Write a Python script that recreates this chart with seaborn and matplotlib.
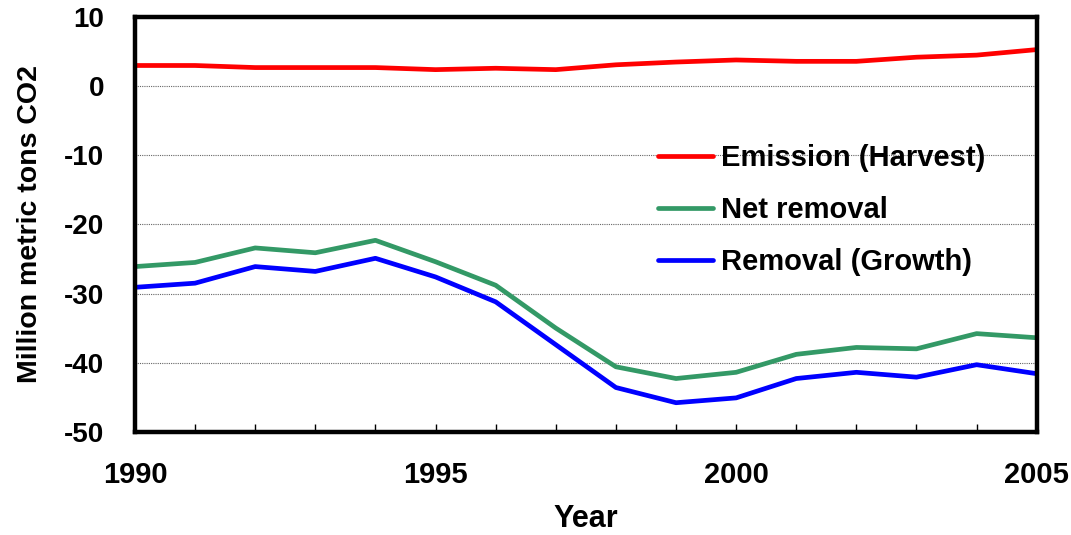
import matplotlib
matplotlib.use("Agg")
import matplotlib.pyplot as plt
import seaborn as sns
import pandas as pd
from matplotlib.ticker import MultipleLocator

years = list(range(1990, 2006))
emission_harvest = [3.0, 3.0, 2.7, 2.7, 2.7, 2.4, 2.6, 2.4, 3.1, 3.5, 3.8, 3.6, 3.6, 4.2, 4.5, 5.3]
net_removal = [-26.1, -25.5, -23.4, -24.1, -22.3, -25.4, -28.8, -35.0, -40.6, -42.3, -41.4, -38.8, -37.8, -38.0, -35.8, -36.4]
removal_growth = [-29.1, -28.5, -26.1, -26.8, -24.9, -27.6, -31.2, -37.4, -43.6, -45.8, -45.1, -42.3, -41.4, -42.1, -40.3, -41.6]

series_names = ["Emission (Harvest)", "Net removal", "Removal (Growth)"]
series_colors = ["#FF0000", "#339966", "#0000FF"]

df = pd.DataFrame({
    "Year": years * 3,
    "Value": emission_harvest + net_removal + removal_growth,
    "Series": [series_names[0]] * len(years) + [series_names[1]] * len(years) + [series_names[2]] * len(years),
})

sns.set_style("white")
plt.rcParams["font.family"] = ["Liberation Sans", "DejaVu Sans"]
plt.rcParams["font.weight"] = "bold"
plt.rcParams["axes.unicode_minus"] = False
plt.rcParams["text.color"] = "black"
plt.rcParams["axes.labelcolor"] = "black"
plt.rcParams["xtick.color"] = "black"
plt.rcParams["ytick.color"] = "black"

fig = plt.figure(figsize=(10.71, 5.35), dpi=100)
ax = fig.add_axes([0.126, 0.193, 0.842, 0.775])

sns.lineplot(data=df, x="Year", y="Value", hue="Series", hue_order=series_names,
             palette=series_colors, linewidth=3.4, ax=ax, legend=True)

ax.set_xlim(1990, 2005)
ax.set_ylim(-50, 10)
ax.yaxis.set_major_locator(MultipleLocator(10))
ax.set_xticks([1990, 1995, 2000, 2005])
ax.xaxis.set_minor_locator(MultipleLocator(1))

ax.grid(False)
for yv in range(-40, 10, 10):
    ax.axhline(yv, color="#666666", linestyle=(0, (1, 1)), linewidth=0.8, zorder=0)

for side in ["top", "bottom", "left", "right"]:
    ax.spines[side].set_visible(True)
    ax.spines[side].set_color("black")
    ax.spines[side].set_linewidth(3.2)

ax.tick_params(axis="x", which="both", direction="in", length=6, width=1.0,
               pad=21, labelsize=21, colors="black", bottom=True)
ax.tick_params(axis="y", which="both", length=0, pad=22, labelsize=20, colors="black")
for lbl in ax.get_xticklabels() + ax.get_yticklabels():
    lbl.set_fontweight("bold")

ax.set_xlabel("Year", fontsize=22, fontweight="bold", labelpad=11)
ax.set_ylabel("Million metric tons CO2", fontsize=20.5, fontweight="bold", labelpad=15)

leg = ax.legend(loc="center left", bbox_to_anchor=(0.58, 0.535), frameon=False,
                borderpad=0, borderaxespad=0, handlelength=1.9, handletextpad=0.25,
                labelspacing=0.82, prop={"weight": "bold", "size": 21})
for line in leg.get_lines():
    line.set_linewidth(3.4)

fig.savefig("out.png", dpi=100, facecolor="white")
